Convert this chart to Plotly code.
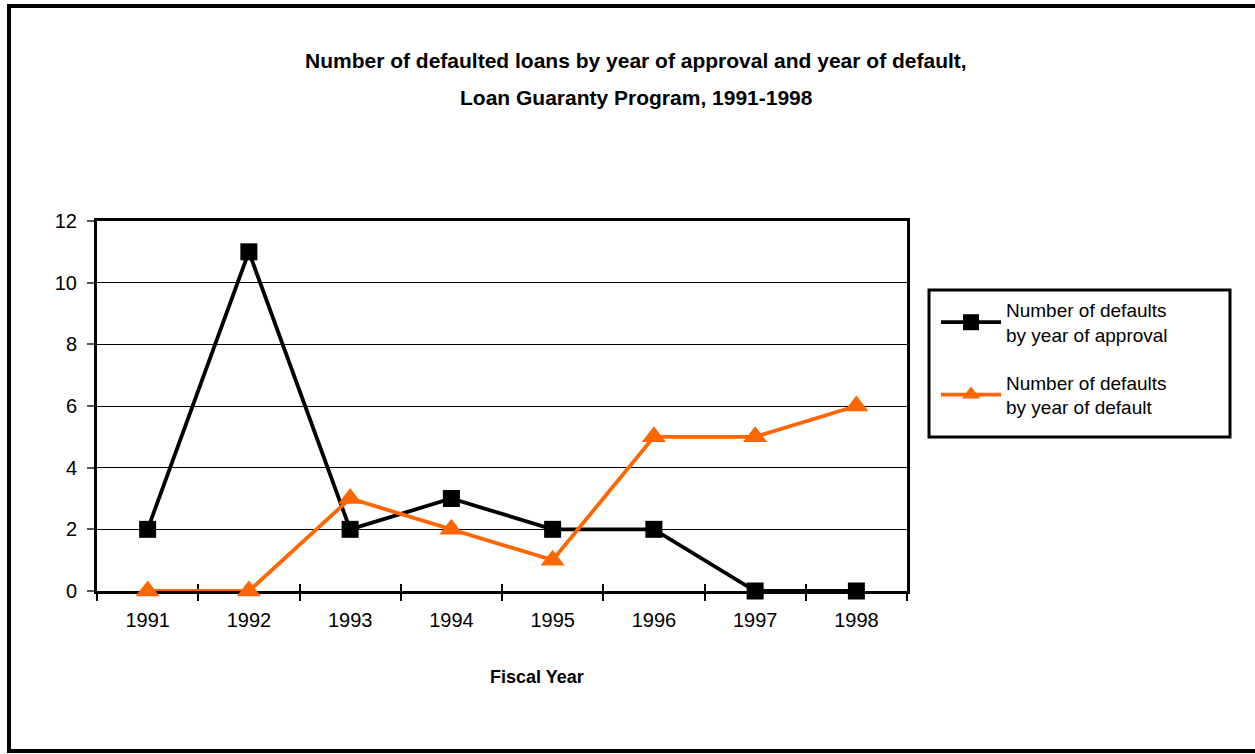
import plotly.graph_objects as go

years = ["1991", "1992", "1993", "1994", "1995", "1996", "1997", "1998"]
by_approval = [2, 11, 2, 3, 2, 2, 0, 0]
by_default = [0, 0, 3, 2, 1, 5, 5, 6]
y_ticks = [0, 2, 4, 6, 8, 10, 12]

W, H = 1255, 754
L, R, T, B = 97, 907, 221, 591  # plot area in px

def px_x(x):
    return (x - L) / (R - L)

def px_y(y):
    return (B - y) / (B - T)

FONT = "Liberation Sans, Arial, sans-serif"
ORANGE = "#FF6600"

fig = go.Figure()
fig.add_trace(go.Scatter(
    x=years, y=by_approval, mode="lines+markers",
    name="Number of defaults<br>by year of approval", legendgroup="a",
    line=dict(color="black", width=3.8),
    marker=dict(symbol="square", size=17, color="black"),
    cliponaxis=False,
))
fig.add_trace(go.Scatter(
    x=years, y=by_default, mode="lines+markers",
    name="Number of defaults<br>by year of default", legendgroup="b",
    line=dict(color=ORANGE, width=3.8),
    marker=dict(symbol="triangle-up", size=21, color=ORANGE),
    cliponaxis=False,
))
# invisible trace to drive the overlay axis with inside ticks
fig.add_trace(go.Scatter(x=years, y=[None]*len(years), xaxis="x2",
                         showlegend=False, hoverinfo="skip"))

fig.update_layout(
    width=W, height=H,
    margin=dict(l=L, r=W - R, t=T, b=H - B),
    paper_bgcolor="white", plot_bgcolor="white",
    font=dict(family=FONT, size=19, color="black"),
    xaxis=dict(
        type="category", range=[-0.5, 7.5],
        showline=True, linecolor="black", linewidth=2.5, mirror=True,
        ticks="outside", ticklen=7, tickwidth=2, tickcolor="black",
        tickson="boundaries", showgrid=False, zeroline=False,
        ticklabelstandoff=9, layer="below traces",
        tickfont=dict(size=20, family=FONT),
    ),
    xaxis2=dict(
        type="category", range=[-0.5, 7.5], overlaying="x", side="bottom",
        ticks="inside", ticklen=7, tickwidth=2, tickcolor="black",
        tickson="boundaries", showticklabels=False, showgrid=False,
        showline=False, zeroline=False, matches="x", layer="below traces",
    ),
    yaxis=dict(
        range=[0, 12], tickvals=y_ticks,
        showline=True, linecolor="black", linewidth=3, mirror=True,
        ticks="outside", ticklen=7, tickwidth=1.5, tickcolor="#555555",
        showgrid=True, gridcolor="black", gridwidth=1, zeroline=False,
        ticklabelstandoff=6, layer="below traces",
        tickfont=dict(size=20, family=FONT),
    ),
    legend=dict(
        x=px_x(936), y=px_y(291), xanchor="left", yanchor="top",
        borderwidth=0, bgcolor="rgba(0,0,0,0)",
        font=dict(size=19, family=FONT), itemwidth=60,
        tracegroupgap=20,
    ),
    showlegend=True,
    annotations=[
        dict(text="<b>Number of defaulted loans by year of approval and year of default,</b>",
             xref="paper", yref="paper", x=px_x(636), y=px_y(60),
             xanchor="center", yanchor="middle", showarrow=False,
             font=dict(size=21, family=FONT)),
        dict(text="<b>Loan Guaranty Program, 1991-1998</b>",
             xref="paper", yref="paper", x=px_x(636), y=px_y(97),
             xanchor="center", yanchor="middle", showarrow=False,
             font=dict(size=21, family=FONT)),
        dict(text="<b>Fiscal Year</b>",
             xref="paper", yref="paper", x=px_x(537), y=px_y(677),
             xanchor="center", yanchor="middle", showarrow=False,
             font=dict(size=18, family=FONT)),
    ],
    shapes=[
        dict(type="rect", xref="paper", yref="paper",
             x0=px_x(9), x1=px_x(1262), y0=px_y(751), y1=px_y(6),
             line=dict(color="black", width=4), layer="below"),
        dict(type="rect", xref="paper", yref="paper",
             x0=px_x(929), x1=px_x(1230), y0=px_y(437), y1=px_y(290),
             line=dict(color="black", width=3), fillcolor="rgba(0,0,0,0)",
             layer="above"),
    ],
)

fig.write_html("out.html")
